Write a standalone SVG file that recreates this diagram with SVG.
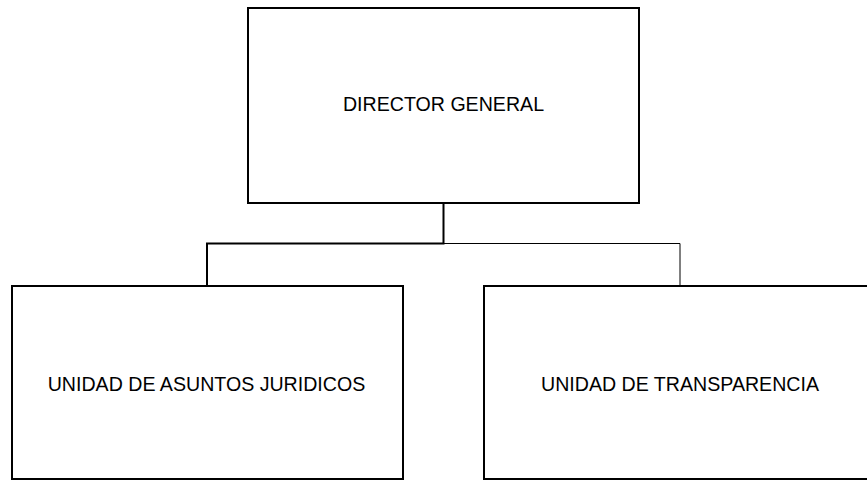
<svg xmlns="http://www.w3.org/2000/svg" width="867" height="481" viewBox="0 0 867 481">
  <style>
    .box { fill: #ffffff; stroke: #000000; stroke-width: 2; }
    .lbl { font-family: "Liberation Sans", Arial, sans-serif; font-size: 19.6px; fill: #000000; text-anchor: middle; }
    .conn { fill: none; stroke: #000000; }
  </style>
  <rect width="867" height="481" fill="#ffffff"/>
  <g id="connectors">
    <path class="conn" stroke-width="2" d="M443.5 203 V243.5 H207 V286"/>
    <path class="conn" stroke-width="1" d="M443.5 243.5 H680 V286"/>
  </g>
  <g id="director-general">
    <rect class="box" x="248" y="8" width="391" height="195"/>
    <text class="lbl" x="443.5" y="110.5">DIRECTOR GENERAL</text>
  </g>
  <g id="unidad-asuntos-juridicos">
    <rect class="box" x="12" y="286" width="391" height="193"/>
    <text class="lbl" x="206.5" y="390.5">UNIDAD DE ASUNTOS JURIDICOS</text>
  </g>
  <g id="unidad-transparencia">
    <rect class="box" x="484" y="286" width="391" height="193"/>
    <text class="lbl" x="680" y="390.5">UNIDAD DE TRANSPARENCIA</text>
  </g>
</svg>
